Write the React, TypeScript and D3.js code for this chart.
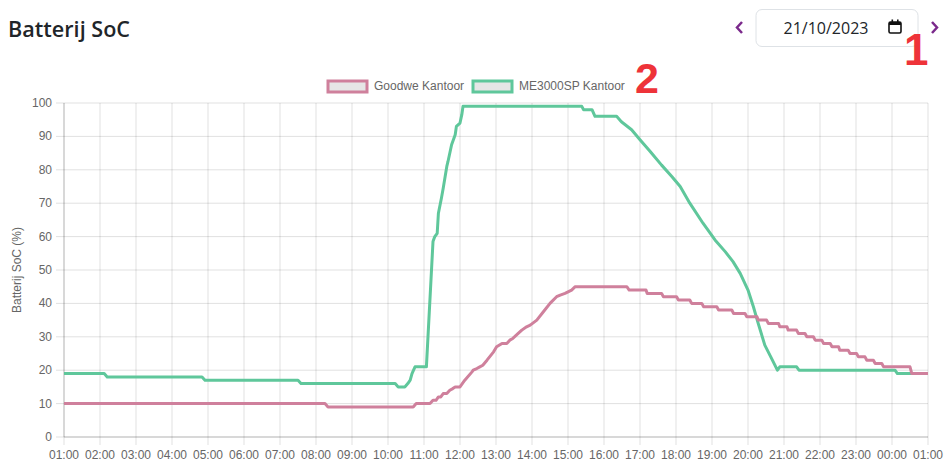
import React from "react";
import * as d3 from "d3";

// ---- data ----
const seriesNames = ["Goodwe Kantoor", "ME3000SP Kantoor"];
const seriesColors = ["#cf809c", "#5fc79b"];

const goodweTime = [
  "01:00", "08:15", "08:20", "10:42", "10:47", "11:10", "11:15", "11:20", "11:24", "11:28",
  "11:32", "11:38", "11:43", "11:48", "11:52", "12:00", "12:08", "12:20", "12:22", "12:28",
  "12:33", "12:38", "12:45", "12:56", "13:01", "13:10", "13:18", "13:23", "13:28", "13:37",
  "13:43", "13:51", "13:57", "14:08", "14:19", "14:30", "14:41", "14:47", "14:55", "15:06",
  "15:12", "16:38", "16:42", "17:10", "17:12", "17:36", "17:39", "18:01", "18:04", "18:23",
  "18:26", "18:43", "18:46", "19:08", "19:11", "19:33", "19:36", "19:55", "19:58", "20:15",
  "20:17", "20:31", "20:34", "20:51", "20:53", "21:05", "21:07", "21:21", "21:24", "21:35",
  "21:38", "21:49", "21:52", "22:03", "22:06", "22:17", "22:20", "22:31", "22:33", "22:47",
  "22:50", "23:01", "23:04", "23:15", "23:18", "23:29", "23:32", "23:43", "23:46", "24:30",
  "24:33", "25:00",
];
const goodweSoc = [
  10, 10, 9, 9, 10, 10, 11, 11, 12, 12,
  13, 13, 14, 14.5, 15, 15, 17, 19.5, 20, 20.5,
  21, 21.5, 23, 25.5, 27, 28, 28, 29, 29.5, 31,
  32, 33, 33.5, 35, 37.5, 40, 42, 42.5, 43, 44,
  45, 45, 44, 44, 43, 43, 42, 42, 41, 41,
  40, 40, 39, 39, 38, 38, 37, 37, 36, 36,
  35, 35, 34, 34, 33, 33, 32, 32, 31, 31,
  30, 30, 29, 29, 28, 28, 27, 27, 26, 26,
  25, 25, 24, 24, 23, 23, 22, 22, 21, 21,
  19, 19,
];

const meTime = [
  "01:00", "02:07", "02:12", "04:50", "04:55", "07:30", "07:35", "10:12", "10:17", "10:28",
  "10:33", "10:37", "10:40", "10:45", "11:04", "11:15", "11:18", "11:22", "11:24", "11:29",
  "11:32", "11:38", "11:40", "11:46", "11:52", "11:54", "12:00", "12:03", "12:05", "15:23",
  "15:26", "15:40", "15:45", "16:21", "16:29", "16:46", "17:00", "17:17", "17:36", "17:53",
  "18:07", "18:23", "18:45", "19:05", "19:22", "19:35", "19:47", "20:00", "20:09", "20:17",
  "20:28", "20:39", "20:49", "20:53", "21:21", "21:25", "24:05", "24:09", "25:00",
];
const meSoc = [
  19, 19, 18, 18, 17, 17, 16, 16, 15, 15,
  16, 17, 19, 21, 21, 58.5, 60, 61, 67, 71.5,
  74.5, 81, 82.5, 87.5, 90.5, 93, 94, 96.5, 99, 99,
  98, 98, 96, 96, 94.4, 92, 89, 85.5, 81.4, 78,
  75, 70, 64, 59, 55.5, 52.5, 49, 44, 39, 34,
  27.5, 23.6, 20, 21, 21, 20, 20, 19, 19,
];

const yTicks = [0, 10, 20, 30, 40, 50, 60, 70, 80, 90, 100];
const titleText = "Batterij SoC";
const yAxisTitle = "Batterij SoC (%)";
const dateText = "21/10/2023";

function parseT(s: string): Date {
  const [h, m] = s.split(":").map(Number);
  return new Date(2023, 9, 21, h, m);
}

export default function App() {
  const W = 952, H = 475;
  const x = d3
    .scaleTime()
    .domain([new Date(2023, 9, 21, 1, 0), new Date(2023, 9, 22, 1, 0)])
    .range([64, 928]);
  const y = d3.scaleLinear().domain([0, 100]).range([437, 103]);
  const xTicks = x.ticks(d3.timeHour.every(1) as any);
  const fmt = d3.timeFormat("%H:%M");

  const mk = (ts: string[], vs: number[]) => ts.map((t, i) => ({ t: parseT(t), v: vs[i] }));
  const gw = mk(goodweTime, goodweSoc);
  const me = mk(meTime, meSoc);
  const line = d3
    .line<{ t: Date; v: number }>()
    .x((d) => x(d.t))
    .y((d) => y(d.v));

  const grid = "rgba(0,0,0,0.12)";
  const font = "'Liberation Sans', Arial, sans-serif";

  return (
    <svg
      width={W}
      height={H}
      style={{ position: "absolute", left: 0, top: 0, background: "#fff" }}
    >
      {/* title */}
      <text x={8} y={37} fontFamily="'Open Sans', sans-serif" fontWeight={600} fontSize={21} fill="#212529" textLength={122} lengthAdjust="spacingAndGlyphs">
        {titleText}
      </text>

      {/* date picker */}
      <path d="M742,22 L737,27.5 L742,33" fill="none" stroke="#7b2a8c" strokeWidth={2.5} />
      <rect x={756} y={9.5} width={162} height={37} rx={6} fill="#fff" stroke="#dee2e6" />
      <text x={826} y={34} textAnchor="middle" fontFamily="'Open Sans', sans-serif" fontSize={16} fill="#212529">
        {dateText}
      </text>
      <g>
        <rect x={889} y={22} width={12} height={11} rx={1.5} fill="none" stroke="#111" strokeWidth={1.6} />
        <rect x={889} y={22} width={12} height={3} fill="#111" />
        <rect x={891.5} y={19.5} width={1.6} height={3} fill="#111" />
        <rect x={897} y={19.5} width={1.6} height={3} fill="#111" />
      </g>
      <path d="M932,22 L937,27.5 L932,33" fill="none" stroke="#7b2a8c" strokeWidth={2.5} />

      {/* annotations */}
      <text x={904} y={65} fontFamily="'Liberation Sans', Arial, sans-serif" fontWeight={700} fontSize={44} fill="#ee3339">1</text>
      <text x={635} y={93} fontFamily="'Liberation Sans', Arial, sans-serif" fontWeight={700} fontSize={43} fill="#ee3339">2</text>

      {/* legend */}
      {seriesNames.map((n, i) => {
        const bx = i === 0 ? 328 : 473;
        return (
          <g key={n}>
            <rect x={bx} y={81} width={39} height={11} fill="#e6e6e6" stroke={seriesColors[i]} strokeWidth={3} />
            <text x={bx + 46} y={90} fontFamily={font} fontSize={12} fill="#666">{n}</text>
          </g>
        );
      })}

      {/* grid */}
      {yTicks.map((t) => (
        <g key={"y" + t}>
          <line x1={56} x2={928} y1={y(t)} y2={y(t)} stroke={grid} />
          <text x={52} y={y(t) + 4} textAnchor="end" fontFamily={font} fontSize={12} fill="#666">{t}</text>
        </g>
      ))}
      {xTicks.map((t, i) => (
        <g key={"x" + i}>
          <line x1={x(t)} x2={x(t)} y1={103} y2={445} stroke={grid} />
          <text x={x(t)} y={459} textAnchor="middle" fontFamily={font} fontSize={12} fill="#666">{fmt(t)}</text>
        </g>
      ))}
      <line x1={64} x2={64} y1={103} y2={437} stroke="rgba(0,0,0,0.2)" />
      <line x1={64} x2={928} y1={437} y2={437} stroke="rgba(0,0,0,0.2)" />

      <text
        transform={`translate(21,270) rotate(-90)`}
        textAnchor="middle"
        fontFamily={font}
        fontSize={12}
        fill="#666"
      >
        {yAxisTitle}
      </text>

      {/* lines: first dataset on top */}
      <path d={line(me) || ""} fill="none" stroke={seriesColors[1]} strokeWidth={3} strokeLinejoin="round" />
      <path d={line(gw) || ""} fill="none" stroke={seriesColors[0]} strokeWidth={3} strokeLinejoin="round" />
    </svg>
  );
}
